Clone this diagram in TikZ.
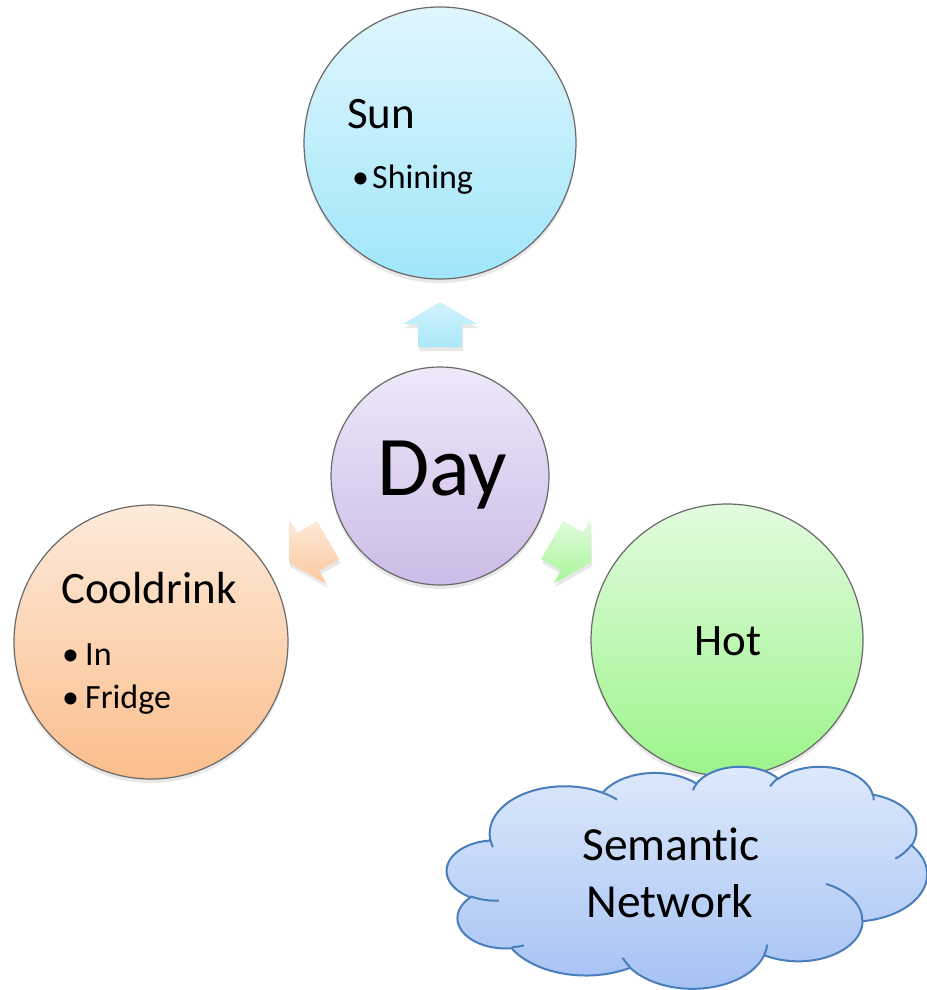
\documentclass[tikz,border=0pt]{standalone}
\usepackage{fontspec}
\setmainfont{Carlito}[Ligatures=NoCommon]
\usetikzlibrary{calc,shadows}
\definecolor{sunT}{RGB}{224,246,253}
\definecolor{sunB}{RGB}{160,230,250}
\definecolor{dayT}{RGB}{237,232,248}
\definecolor{dayB}{RGB}{204,188,232}
\definecolor{coolT}{RGB}{253,234,218}
\definecolor{coolB}{RGB}{251,190,140}
\definecolor{hotT}{RGB}{226,251,222}
\definecolor{hotB}{RGB}{156,244,138}
\definecolor{cloudT}{RGB}{222,233,251}
\definecolor{cloudB}{RGB}{164,193,244}
\definecolor{cloudLine}{RGB}{74,126,187}
\definecolor{ringLine}{RGB}{105,105,105}
\newcommand\ooarc[4]{arc[x radius=#1, y radius=#2, start angle={pa(#3,#1,#2)}, end angle={pa(#3+#4,#1,#2)}]}
\begin{document}
\begin{tikzpicture}[x=1pt,y=-1pt,
  declare function={pa(\aa,\rx,\ry)=\aa+mod(atan2(\rx*sin(\aa),\ry*cos(\aa))-\aa+540,360)-180;},
  ring/.style={circle, draw=ringLine, line width=1.2pt, inner sep=0pt,
    drop shadow={opacity=0.18, shadow xshift=0pt, shadow yshift=-4pt}},
  blockarrow/.style={draw=none, drop shadow={opacity=0.18, shadow xshift=1pt, shadow yshift=-4pt}},
  head/.style={font=\fontsize{45}{54}\selectfont, inner sep=0pt},
  cloudtext/.style={font=\fontsize{47.5}{56}\selectfont, inner sep=0pt},
  sub/.style={font=\fontsize{34}{41}\selectfont, inner sep=0pt},
  cloudline/.style={draw=cloudLine, line width=2pt}]
\useasboundingbox (0,0) rectangle (926,990);

% circles
\node[ring, minimum size=272pt, top color=sunT, bottom color=sunB] (sun) at (440,143) {};
\node[ring, minimum size=218pt, top color=dayT, bottom color=dayB] (day) at (440,476) {};
\node[ring, minimum size=274pt, top color=coolT, bottom color=coolB] (cool) at (151,642) {};
\node[ring, minimum size=272pt, top color=hotT, bottom color=hotB] (hot) at (727,640) {};

% block arrows
\begin{scope}[shift={($(day)!129pt!(sun)$)}, rotate=90]
  \path[blockarrow, top color=sunT!80!sunB, bottom color=sunB!85!sunT]
    (0,-22) -- (23,-22) -- (23,-37) -- (45,0) -- (23,37) -- (23,22) -- (0,22) -- cycle;
\end{scope}
\begin{scope}[shift={($(day)!129pt!(cool)$)}, rotate=209.87]
  \path[blockarrow, top color=coolT, bottom color=coolB!80!coolT]
    (0,-22) -- (23,-22) -- (23,-37) -- (45,0) -- (23,37) -- (23,22) -- (0,22) -- cycle;
\end{scope}
\begin{scope}[shift={($(day)!129pt!(hot)$)}, rotate=-29.74]
  \path[blockarrow, top color=hotT, bottom color=hotB!85!hotT]
    (0,-22) -- (23,-22) -- (23,-37) -- (45,0) -- (23,37) -- (23,22) -- (0,22) -- cycle;
\end{scope}

% texts
\node[head, anchor=base west] (sunT) at (347,128) {Sun};
\node[sub, anchor=base west] (sunB1) at (352,188) {\textbullet};
\node[sub, anchor=base west] (sunL1) at (372,188) {Shining};
\node[font=\fontsize{85}{95}\selectfont, inner sep=0pt, anchor=base] (dayT) at (442,495) {Day};
\node[head, anchor=base west] (coolT) at (61,603) {Cooldrink};
\node[sub, anchor=base west] (coolB1) at (62,665) {\textbullet};
\node[sub, anchor=base west] (coolL1) at (85,665) {In};
\node[sub, anchor=base west] (coolB2) at (62,708) {\textbullet};
\node[sub, anchor=base west] (coolL2) at (85,708) {Fridge};
\node[head, anchor=base] (hotT) at (728,655) {Hot};

% cloud
\begin{scope}[shift={(447,766)}, x={(11.111pt,0pt)}, y={(0pt,-5.139pt)}]
  \path[cloudline, top color=cloudT, bottom color=cloudB] (3.900,14.370)
    \ooarc{6.753}{9.190}{-190.48748}{123.78053}
    \ooarc{5.333}{7.267}{-144.10238}{89.94523}
    \ooarc{4.365}{5.945}{-145.80792}{99.72302}
    \ooarc{4.857}{6.595}{-130.98607}{117.24173}
    \ooarc{5.333}{7.273}{-78.70888}{109.02692}
    \ooarc{6.775}{9.220}{-46.26725}{130.269}
    \ooarc{5.785}{7.867}{0.62502}{114.03333}
    \ooarc{6.752}{9.215}{22.4516}{115.17255}
    \ooarc{7.720}{10.543}{66.24263}{75.71102}
    \ooarc{4.360}{5.918}{-274.94208}{146.73557}
    \ooarc{4.345}{5.945}{-246.8285}{152.51885}
    -- cycle;
  \draw[cloudline] (4.693,26.177) \ooarc{4.345}{5.945}{86.742}{26.4295};
  \draw[cloudline] (6.928,34.899) \ooarc{4.360}{5.918}{73.61047}{11.44747};
  \draw[cloudline] (16.478,39.090) \ooarc{6.752}{9.215}{137.62415}{14.0811};
  \draw[cloudline] (28.827,34.751) \ooarc{6.752}{9.215}{6.45327}{15.99835};
  \draw[cloudline] (34.129,22.954) \ooarc{5.785}{7.867}{-70.29235}{70.91737};
  \draw[cloudline] (41.798,15.354) \ooarc{5.333}{7.273}{30.31803}{27.7515};
  \draw[cloudline] (38.324,5.426) \ooarc{4.857}{6.595}{-13.74433}{14.85962};
  \draw[cloudline] (29.078,3.952) \ooarc{4.857}{6.595}{-149.18145}{18.19537};
  \draw[cloudline] (22.141,4.720) \ooarc{4.365}{5.945}{-163.49427}{17.68635};
  \draw[cloudline] (14.000,5.192) \ooarc{6.753}{9.190}{-66.70695}{12.31935};
  \draw[cloudline] (4.127,15.789) \ooarc{6.753}{9.190}{157.65435}{11.85817};
\end{scope}
\node[cloudtext, anchor=base] (semT) at (671,860) {Semantic};
\node[cloudtext, anchor=base] (netT) at (670,917) {Network};
\end{tikzpicture}
\end{document}
